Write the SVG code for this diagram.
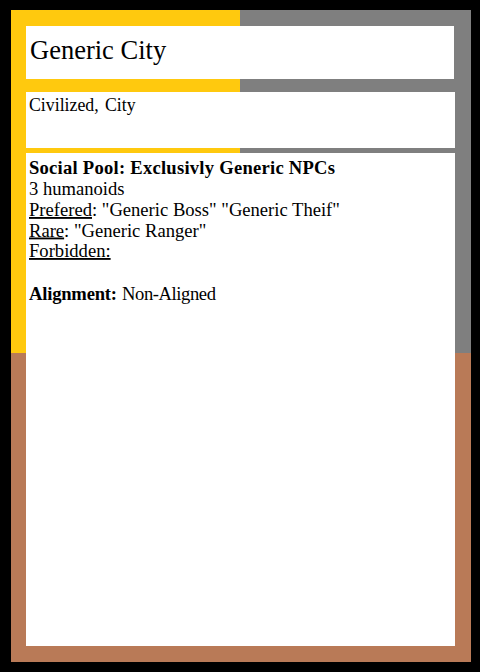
<svg xmlns="http://www.w3.org/2000/svg" width="480" height="672" viewBox="0 0 480 672">
<style>
.panel{fill:#ffffff}
.t{font-family:"Liberation Serif","Times New Roman",serif;fill:#000000}
.b{font-weight:bold}
.u{text-decoration:underline}
</style>
<rect x="0" y="0" width="480" height="672" fill="#000000"/>
<g id="frame">
<rect x="11" y="10" width="229" height="343" fill="#FFC90E"/>
<rect x="240" y="10" width="231" height="343" fill="#7F7F7F"/>
<rect x="11" y="353" width="460" height="309" fill="#B97A57"/>
</g>
<g id="title">
<rect class="panel" x="26" y="26" width="428" height="53"/>
<text class="t" x="30" y="58.5" font-size="26.5">Generic City</text>
</g>
<g id="tags">
<rect class="panel" x="26" y="92" width="429" height="56"/>
<text class="t" x="29" y="110.5" font-size="17.8">Civilized,</text>
<text class="t" x="105" y="110.5" font-size="17.8">City</text>
</g>
<g id="details">
<rect class="panel" x="26" y="153" width="429" height="493"/>
<text class="t" font-size="18.6">
<tspan class="b" x="29" y="174" textLength="306" lengthAdjust="spacing">Social Pool: Exclusivly Generic NPCs</tspan>
<tspan x="29" y="195">3 humanoids</tspan>
<tspan x="29" y="216"><tspan class="u">Prefered</tspan>: "Generic Boss" "Generic Theif"</tspan>
<tspan x="29" y="236.5"><tspan class="u">Rare</tspan>: "Generic Ranger"</tspan>
<tspan x="29" y="257" class="u">Forbidden:</tspan>
<tspan x="29" y="299.5" class="b" textLength="88" lengthAdjust="spacing">Alignment:</tspan><tspan x="122" y="299.5" textLength="94" lengthAdjust="spacing">Non-Aligned</tspan>
</text>
</g>
<g id="connectors"/>
</svg>
